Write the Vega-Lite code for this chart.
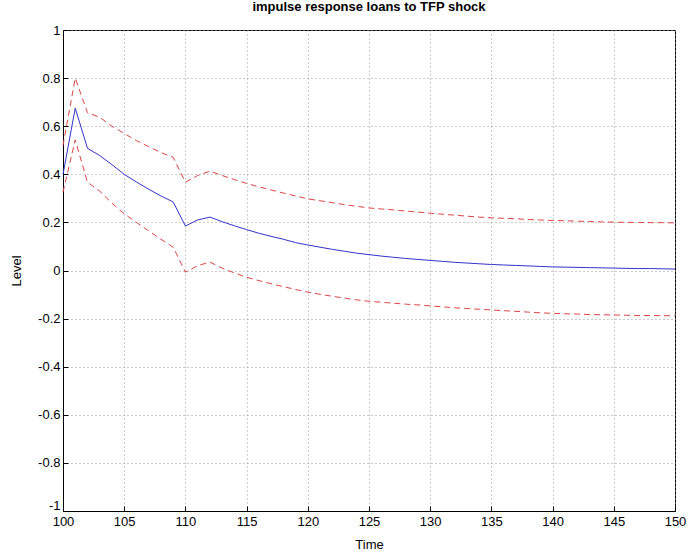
{
  "$schema": "https://vega.github.io/schema/vega-lite/v6.json",
  "width": 612,
  "height": 481,
  "autosize": {"type": "none"},
  "padding": {"left": 63, "top": 30, "right": 14, "bottom": 48},
  "background": "white",
  "title": {"text": "impulse response loans to TFP shock", "font": "Liberation Sans", "fontSize": 13, "fontWeight": "bold", "color": "black", "offset": 10, "anchor": "middle"},
  "config": {
    "view": {"stroke": "black", "strokeWidth": 1},
    "axis": {"labelFont": "Liberation Sans", "titleFont": "Liberation Sans", "labelFontSize": 13, "titleFontSize": 13, "titleFontWeight": "normal", "labelColor": "black", "titleColor": "black", "domainColor": "black", "tickColor": "black", "gridColor": "#999999", "gridDash": [1, 3], "gridOpacity": 1, "grid": true, "tickSize": -5, "domain": true}
  },
  "data": {"values": [
    {"t":100,"lo":0.326,"mid":0.40,"hi":0.52},
    {"t":101,"lo":0.543,"mid":0.675,"hi":0.80},
    {"t":102,"lo":0.367,"mid":0.508,"hi":0.656},
    {"t":103,"lo":0.33,"mid":0.478,"hi":0.637},
    {"t":104,"lo":0.28,"mid":0.44,"hi":0.60},
    {"t":105,"lo":0.236,"mid":0.40,"hi":0.57},
    {"t":106,"lo":0.2,"mid":0.368,"hi":0.54},
    {"t":107,"lo":0.165,"mid":0.338,"hi":0.515},
    {"t":108,"lo":0.13,"mid":0.31,"hi":0.49},
    {"t":109,"lo":0.097,"mid":0.285,"hi":0.471},
    {"t":110,"lo":-0.007,"mid":0.185,"hi":0.367},
    {"t":111,"lo":0.02,"mid":0.21,"hi":0.395},
    {"t":112,"lo":0.035,"mid":0.222,"hi":0.413},
    {"t":113,"lo":0.01,"mid":0.203,"hi":0.395},
    {"t":114,"lo":-0.01,"mid":0.186,"hi":0.378},
    {"t":115,"lo":-0.028,"mid":0.17,"hi":0.362},
    {"t":116,"lo":-0.042,"mid":0.155,"hi":0.348},
    {"t":117,"lo":-0.055,"mid":0.142,"hi":0.335},
    {"t":118,"lo":-0.067,"mid":0.13,"hi":0.322},
    {"t":119,"lo":-0.079,"mid":0.116,"hi":0.31},
    {"t":120,"lo":-0.09,"mid":0.106,"hi":0.298},
    {"t":121,"lo":-0.099,"mid":0.097,"hi":0.29},
    {"t":122,"lo":-0.107,"mid":0.088,"hi":0.282},
    {"t":123,"lo":-0.115,"mid":0.08,"hi":0.274},
    {"t":124,"lo":-0.122,"mid":0.072,"hi":0.267},
    {"t":125,"lo":-0.128,"mid":0.066,"hi":0.26},
    {"t":126,"lo":-0.132,"mid":0.06,"hi":0.256},
    {"t":127,"lo":-0.136,"mid":0.055,"hi":0.252},
    {"t":128,"lo":-0.14,"mid":0.05,"hi":0.247},
    {"t":129,"lo":-0.143,"mid":0.046,"hi":0.243},
    {"t":130,"lo":-0.147,"mid":0.042,"hi":0.238},
    {"t":131,"lo":-0.151,"mid":0.038,"hi":0.234},
    {"t":132,"lo":-0.155,"mid":0.034,"hi":0.23},
    {"t":133,"lo":-0.158,"mid":0.031,"hi":0.226},
    {"t":134,"lo":-0.161,"mid":0.028,"hi":0.222},
    {"t":135,"lo":-0.164,"mid":0.025,"hi":0.219},
    {"t":136,"lo":-0.167,"mid":0.023,"hi":0.217},
    {"t":137,"lo":-0.17,"mid":0.021,"hi":0.215},
    {"t":138,"lo":-0.173,"mid":0.019,"hi":0.212},
    {"t":139,"lo":-0.176,"mid":0.017,"hi":0.21},
    {"t":140,"lo":-0.178,"mid":0.015,"hi":0.208},
    {"t":141,"lo":-0.18,"mid":0.014,"hi":0.207},
    {"t":142,"lo":-0.181,"mid":0.013,"hi":0.205},
    {"t":143,"lo":-0.183,"mid":0.012,"hi":0.204},
    {"t":144,"lo":-0.184,"mid":0.011,"hi":0.202},
    {"t":145,"lo":-0.185,"mid":0.01,"hi":0.201},
    {"t":146,"lo":-0.186,"mid":0.009,"hi":0.2},
    {"t":147,"lo":-0.187,"mid":0.008,"hi":0.2},
    {"t":148,"lo":-0.187,"mid":0.008,"hi":0.199},
    {"t":149,"lo":-0.188,"mid":0.007,"hi":0.199},
    {"t":150,"lo":-0.188,"mid":0.006,"hi":0.198}
  ]},
  "encoding": {
    "x": {"field": "t", "type": "quantitative", "scale": {"domain": [100, 150], "nice": false, "zero": false},
      "axis": {"title": "Time", "values": [100,105,110,115,120,125,130,135,140,145,150], "labelPadding": 9, "titlePadding": 10, "labelFlush": false}}
  },
  "layer": [
    {"mark": {"type": "line", "color": "#dd4444", "strokeWidth": 1, "strokeDash": [6, 4]},
     "encoding": {"y": {"field": "hi", "type": "quantitative", "scale": {"domain": [-1, 1], "nice": false},
       "axis": {"title": "Level", "values": [-1,-0.8,-0.6,-0.4,-0.2,0,0.2,0.4,0.6,0.8,1], "labelExpr": "toString(round(datum.value*10)/10)", "labelPadding": 8, "titlePadding": 14,
         "labelOffset": {"condition": {"test": "datum.value <= -0.99", "value": -6}, "value": 0}}}}},
    {"mark": {"type": "line", "color": "#dd4444", "strokeWidth": 1, "strokeDash": [6, 4]},
     "encoding": {"y": {"field": "lo", "type": "quantitative"}}},
    {"mark": {"type": "line", "color": "#3333cc", "strokeWidth": 1},
     "encoding": {"y": {"field": "mid", "type": "quantitative"}}}
  ]
}
